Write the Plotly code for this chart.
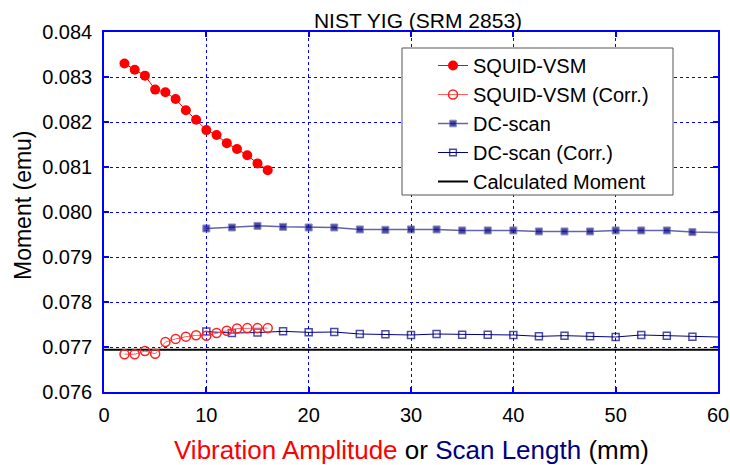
import plotly.graph_objects as go

# ---- data ----
squid_x = [2, 3, 4, 5, 6, 7, 8, 9, 10, 11, 12, 13, 14, 15, 16]
squid_y = [0.08330, 0.08316, 0.08303, 0.08272, 0.08266, 0.08251, 0.08226, 0.08205,
           0.08182, 0.08171, 0.08153, 0.08140, 0.08126, 0.08108, 0.08093]
squid_corr_y = [0.07684, 0.07684, 0.07691, 0.07685, 0.07711, 0.07718, 0.07723, 0.07726,
                0.07725, 0.07731, 0.07736, 0.07741, 0.07742, 0.07742, 0.07742]

dc_x = [10, 12.5, 15, 17.5, 20, 22.5, 25, 27.5, 30, 32.5, 35, 37.5, 40, 42.5, 45,
        47.5, 50, 52.5, 55, 57.5, 60]
dc_y = [0.079634, 0.079656, 0.079692, 0.079670, 0.079656, 0.079656, 0.079612, 0.079604,
        0.079612, 0.079612, 0.079590, 0.079590, 0.079590, 0.079568, 0.079568, 0.079568,
        0.079590, 0.079590, 0.079590, 0.079553, 0.079546]
dc_corr_y = [0.077342, 0.077311, 0.077320, 0.077348, 0.077326, 0.077333, 0.077289, 0.077281,
             0.077267, 0.077289, 0.077274, 0.077274, 0.077267, 0.077237, 0.077252, 0.077237,
             0.077222, 0.077267, 0.077252, 0.077230, 0.077222]

calc_x = [0, 60]
calc_y = [0.07694, 0.07694]

x_ticks = [0, 10, 20, 30, 40, 50, 60]
y_ticks = [0.076, 0.077, 0.078, 0.079, 0.080, 0.081, 0.082, 0.083, 0.084]

title_text = "NIST YIG (SRM 2853)"
x_title = ("<span style='color:#ff0000'>Vibration Amplitude</span> or "
           "<span style='color:#000080'>Scan Length</span> (mm)")
y_title = "Moment (emu)"

FONT = "Liberation Sans, Arial, sans-serif"
BLUE = "#0000ff"
NAVY = "#000080"

def sizes(n, s):
    # hide marker on the trailing point that sits on the plot edge
    return [s] * (n - 1) + [0]

fig = go.Figure()
fig.add_trace(go.Scatter(x=calc_x, y=calc_y, mode="lines", name="Calculated Moment",
                         line=dict(color="black", width=2), legendrank=5))
fig.add_trace(go.Scatter(x=dc_x, y=dc_y, mode="lines+markers", name="DC-scan",
                         line=dict(color="#6464aa", width=1.5),
                         marker=dict(symbol="square", size=sizes(len(dc_x), 7), color=NAVY),
                         legendrank=3))
fig.add_trace(go.Scatter(x=dc_x, y=dc_corr_y, mode="lines+markers", name="DC-scan (Corr.)",
                         line=dict(color=NAVY, width=1),
                         marker=dict(symbol="square-open", size=sizes(len(dc_x), 7), color=NAVY,
                                     line=dict(width=1.5)),
                         legendrank=4))
fig.add_trace(go.Scatter(x=squid_x, y=squid_corr_y, mode="lines+markers", name="SQUID-VSM (Corr.)",
                         line=dict(color="#ff6060", width=1),
                         marker=dict(symbol="circle-open", size=9, color="#ff2020",
                                     line=dict(width=1.5)),
                         legendrank=2))
fig.add_trace(go.Scatter(x=squid_x, y=squid_y, mode="lines+markers", name="SQUID-VSM",
                         line=dict(color="#ff0000", width=1),
                         marker=dict(symbol="circle", size=10, color="#ff0000"),
                         legendrank=1))

axis_common = dict(showline=True, linecolor=BLUE, linewidth=1.5, mirror="ticks",
                   ticks="inside", ticklen=5, tickcolor=BLUE, tickwidth=1.5,
                   showgrid=True, gridcolor=BLUE, griddash="dot", gridwidth=1,
                   zeroline=False, automargin=False,
                   tickfont=dict(family=FONT, size=20, color="black"))

PW, PH = 614, 360  # plot area size in px

fig.update_layout(
    width=730, height=465,
    margin=dict(l=104, r=12, t=32, b=73, autoexpand=False),
    paper_bgcolor="white", plot_bgcolor="white",
    font=dict(family=FONT, color="black"),
    title=dict(text=title_text, x=(418 - 104) / PW, xref="paper", y=1 - 21 / 465,
               yref="container", xanchor="center", yanchor="middle",
               font=dict(family=FONT, size=21, color="black")),
    xaxis=dict(range=[0, 60], tickvals=x_ticks, ticklabelstandoff=4, **axis_common),
    yaxis=dict(range=[0.076, 0.084], tickvals=y_ticks, tickformat=".3f",
               ticklabelstandoff=6, **axis_common),
    legend=dict(x=(433 - 104) / PW, y=1 - (46 - 32) / PH, xanchor="left", yanchor="top",
                bgcolor="rgba(0,0,0,0)", borderwidth=0,
                font=dict(family=FONT, size=20, color="black"), traceorder="normal"),
    showlegend=True,
    shapes=[
        dict(type="rect", xref="paper", yref="paper", layer="above",
             x0=(402 - 104) / PW, x1=(673 - 104) / PW,
             y0=1 - (195 - 32) / PH, y1=1 - (48 - 32) / PH,
             line=dict(color="#555555", width=1), fillcolor="white"),
    ],
    annotations=[
        dict(text=x_title, xref="paper", yref="paper", x=0.5016, y=-(467 - 392) / PH,
             xanchor="center", yanchor="bottom", showarrow=False,
             font=dict(family=FONT, size=26, color="black")),
        dict(text=y_title, xref="paper", yref="paper", x=-81 / PW, y=1 - 173 / PH,
             xanchor="center", yanchor="middle", textangle=-90, showarrow=False,
             font=dict(family=FONT, size=23, color="black")),
    ],
)

fig.write_html("out.html", config={"displayModeBar": False},
               post_script="document.body.style.margin='0';")
